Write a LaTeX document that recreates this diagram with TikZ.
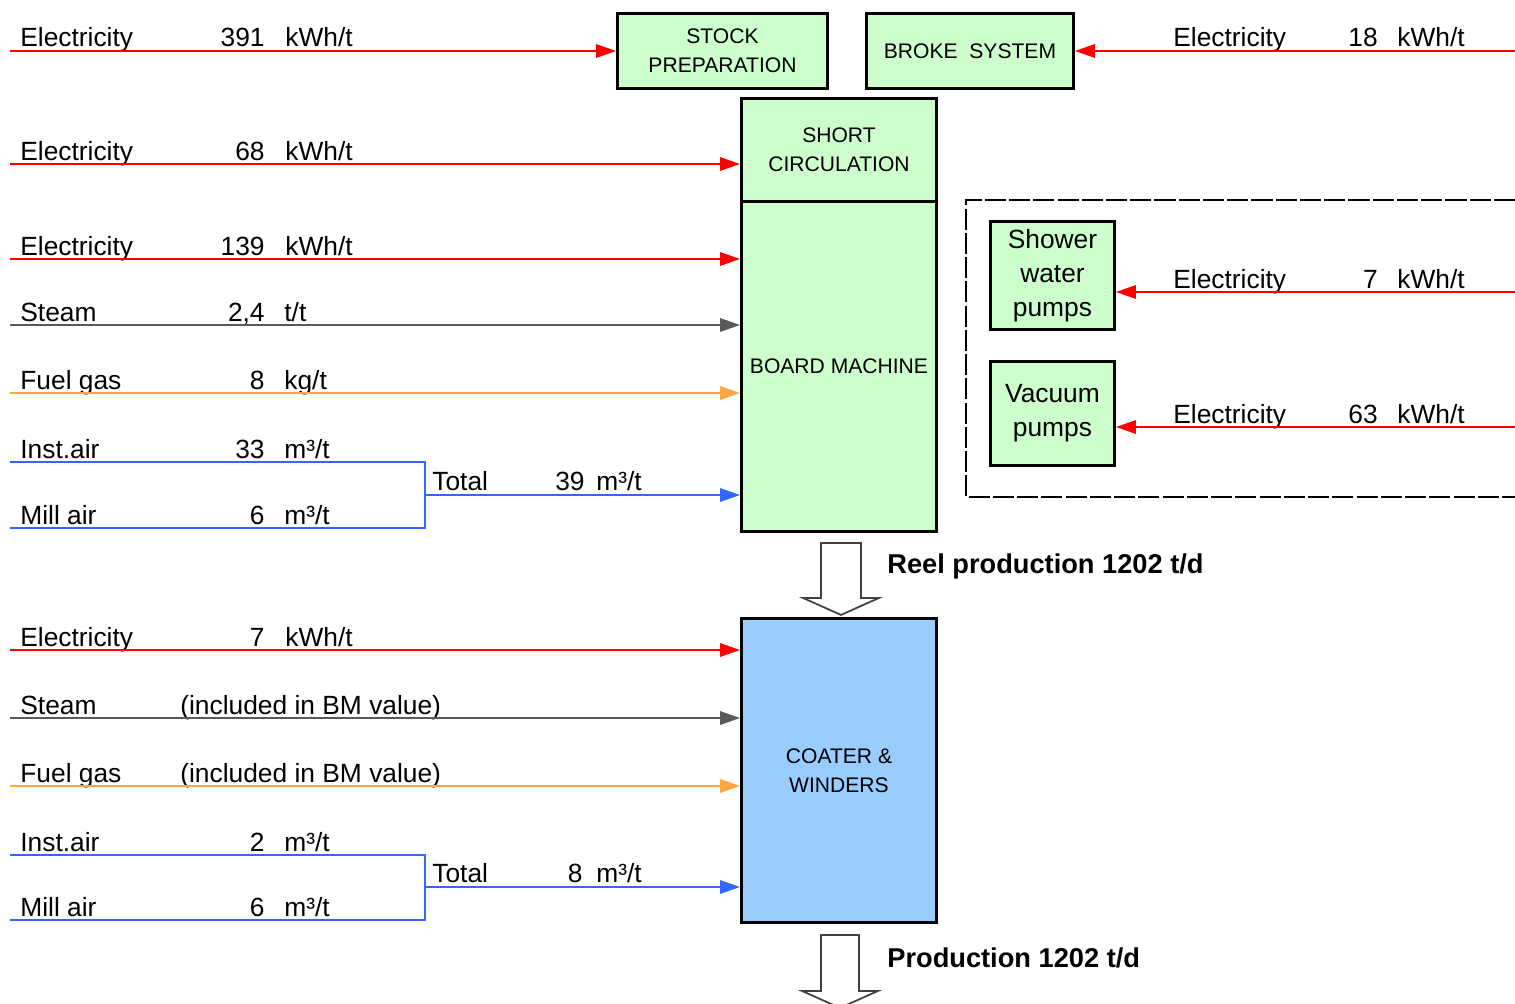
\documentclass[tikz,border=0pt]{standalone}
\usepackage{fontspec}
\setmainfont{Liberation Sans}
\usepackage{tikz}
\usetikzlibrary{positioning, arrows.meta}
\definecolor{boxgreen}{HTML}{CCFFCC}
\definecolor{boxblue}{HTML}{99CCFF}
\definecolor{elecred}{HTML}{FF0000}
\definecolor{steamgray}{HTML}{595959}
\definecolor{fuelorange}{HTML}{FFA640}
\definecolor{airblue}{HTML}{3366FF}
\newcommand{\lblfont}{\fontsize{15}{19.5}\selectfont}
\newcommand{\boxfont}{\fontsize{12}{16.5}\selectfont}
\newcommand{\prodfont}{\fontsize{15.5}{19}\selectfont\bfseries}
\tikzset{
  box/.style={draw, line width=1.7pt, fill=boxgreen, align=center, font=\boxfont, inner sep=1pt, anchor=north west},
  flow/.style={line width=1pt, -{Triangle[length=0.4cm, width=0.27cm]}},
  pipe/.style={line width=1pt},
  lbl/.style={anchor=base west, inner sep=0pt, font=\lblfont},
  val/.style={anchor=base east, inner sep=0pt, font=\lblfont},
  hollow/.style={draw=black!75, line width=1pt, fill=white, line join=miter},
}

\begin{document}
\begin{tikzpicture}[x=0.02cm, y=-0.02cm]
  \useasboundingbox (0,0) rectangle (1515,1004);

  % process boxes
  \node[box, minimum width=4.2cm, minimum height=1.5cm] (stock) at (616,12) {STOCK\\PREPARATION};
  \node[box, minimum width=4.14cm, minimum height=1.5cm] (broke) at (865,12) {BROKE\ \ SYSTEM};
  \node[box, minimum width=3.9cm, minimum height=2.06cm] (short) at (740,97) {SHORT\\CIRCULATION};
  \node[box, minimum width=3.9cm, minimum height=6.6cm] (board) at (740,200) {BOARD MACHINE};
  \node[box, fill=boxblue, minimum width=3.9cm, minimum height=6.08cm] (coater) at (740,617) {COATER \&\\WINDERS};
  \node[box, font=\lblfont, minimum width=2.48cm, minimum height=2.16cm] (shower) at (989,220) {Shower\\water\\pumps};
  \node[box, font=\lblfont, minimum width=2.48cm, minimum height=2.08cm] (vacuum) at (989,360) {Vacuum\\pumps};

  % dashed frame round the pumps
  \draw[line width=1.3pt, dash pattern=on 12pt off 1.8pt] (1515,200) -- (966,200) -- (966,497) -- (1515,497);

  % stock preparation
  \coordinate (eStock) at (10,51);
  \node[lbl] (eStockName) at (20,47) {Electricity};
  \node[val] (eStockVal) at (265,47) {391};
  \node[lbl, right=0.4cm of eStockVal.base east, anchor=base west] (eStockUnit) {kWh/t};
  \draw[flow, elecred] (eStock) -- (eStock -| stock.west);

  % broke system
  \coordinate (eBroke) at (1515,51);
  \node[lbl] (eBrokeName) at (1173,47) {Electricity};
  \node[val] (eBrokeVal) at (1378,47) {18};
  \node[lbl, right=0.38cm of eBrokeVal.base east, anchor=base west] (eBrokeUnit) {kWh/t};
  \draw[flow, elecred] (eBroke) -- (eBroke -| broke.east);

  % short circulation
  \coordinate (eShort) at (10,164);
  \node[lbl] (eShortName) at (20,160) {Electricity};
  \node[val] (eShortVal) at (265,160) {68};
  \node[lbl, right=0.4cm of eShortVal.base east, anchor=base west] (eShortUnit) {kWh/t};
  \draw[flow, elecred] (eShort) -- (eShort -| short.west);

  % board machine
  \coordinate (eBoard) at (10,259);
  \node[lbl] (eBoardName) at (20,255) {Electricity};
  \node[val] (eBoardVal) at (265,255) {139};
  \node[lbl, right=0.4cm of eBoardVal.base east, anchor=base west] (eBoardUnit) {kWh/t};
  \draw[flow, elecred] (eBoard) -- (eBoard -| board.west);

  \coordinate (sBoard) at (10,325);
  \node[lbl] (sBoardName) at (20,321) {Steam};
  \node[val] (sBoardVal) at (265,321) {2,4};
  \node[lbl, right=0.38cm of sBoardVal.base east, anchor=base west] (sBoardUnit) {t/t};
  \draw[flow, steamgray] (sBoard) -- (sBoard -| board.west);

  \coordinate (fBoard) at (10,393);
  \node[lbl] (fBoardName) at (20,389) {Fuel gas};
  \node[val] (fBoardVal) at (265,389) {8};
  \node[lbl, right=0.38cm of fBoardVal.base east, anchor=base west] (fBoardUnit) {kg/t};
  \draw[flow, fuelorange] (fBoard) -- (fBoard -| board.west);

  \coordinate (iBoard) at (10,462);
  \coordinate (mBoard) at (10,528);
  \coordinate (jBoard) at (425,495);
  \node[lbl] (iBoardName) at (20,458) {Inst.air};
  \node[val] (iBoardVal) at (265,458) {33};
  \node[lbl, right=0.38cm of iBoardVal.base east, anchor=base west] (iBoardUnit) {m³/t};
  \node[lbl] (mBoardName) at (20,524) {Mill air};
  \node[val] (mBoardVal) at (265,524) {6};
  \node[lbl, right=0.38cm of mBoardVal.base east, anchor=base west] (mBoardUnit) {m³/t};
  \draw[pipe, airblue] (iBoard) -| (jBoard) |- (mBoard);
  \node[lbl] (tBoardName) at (432,490) {Total};
  \node[val] (tBoardVal) at (585,490) {39};
  \node[lbl, right=0.22cm of tBoardVal.base east, anchor=base west] (tBoardUnit) {m³/t};
  \draw[flow, airblue] (jBoard) -- (jBoard -| board.west);

  % pumps
  \coordinate (eShower) at (1515,292);
  \node[lbl] (eShowerName) at (1173,288) {Electricity};
  \node[val] (eShowerVal) at (1378,288) {7};
  \node[lbl, right=0.38cm of eShowerVal.base east, anchor=base west] (eShowerUnit) {kWh/t};
  \draw[flow, elecred] (eShower) -- (eShower -| shower.east);

  \coordinate (eVacuum) at (1515,427);
  \node[lbl] (eVacuumName) at (1173,423) {Electricity};
  \node[val] (eVacuumVal) at (1378,423) {63};
  \node[lbl, right=0.38cm of eVacuumVal.base east, anchor=base west] (eVacuumUnit) {kWh/t};
  \draw[flow, elecred] (eVacuum) -- (eVacuum -| vacuum.east);

  % reel to coater
  \draw[hollow, shift={(board.south)}] (-18,10) -- (22,10) -- (22,65) -- (40,65) -- (2,82) -- (-36,65) -- (-18,65) -- cycle;
  \node[lbl, font=\prodfont, anchor=west] (reel) at (887,566) {Reel production 1202 t/d};

  % coater & winders
  \coordinate (eCoater) at (10,650);
  \node[lbl] (eCoaterName) at (20,646) {Electricity};
  \node[val] (eCoaterVal) at (265,646) {7};
  \node[lbl, right=0.4cm of eCoaterVal.base east, anchor=base west] (eCoaterUnit) {kWh/t};
  \draw[flow, elecred] (eCoater) -- (eCoater -| coater.west);

  \coordinate (sCoater) at (10,718);
  \node[lbl] (sCoaterName) at (20,714) {Steam};
  \node[lbl] (sCoaterVal) at (180,714) {(included in BM value)};
  \draw[flow, steamgray] (sCoater) -- (sCoater -| coater.west);

  \coordinate (fCoater) at (10,786);
  \node[lbl] (fCoaterName) at (20,782) {Fuel gas};
  \node[lbl] (fCoaterVal) at (180,782) {(included in BM value)};
  \draw[flow, fuelorange] (fCoater) -- (fCoater -| coater.west);

  \coordinate (iCoater) at (10,855);
  \coordinate (mCoater) at (10,920);
  \coordinate (jCoater) at (425,887);
  \node[lbl] (iCoaterName) at (20,851) {Inst.air};
  \node[val] (iCoaterVal) at (265,851) {2};
  \node[lbl, right=0.38cm of iCoaterVal.base east, anchor=base west] (iCoaterUnit) {m³/t};
  \node[lbl] (mCoaterName) at (20,916) {Mill air};
  \node[val] (mCoaterVal) at (265,916) {6};
  \node[lbl, right=0.38cm of mCoaterVal.base east, anchor=base west] (mCoaterUnit) {m³/t};
  \draw[pipe, airblue] (iCoater) -| (jCoater) |- (mCoater);
  \node[lbl] (tCoaterName) at (432,882) {Total};
  \node[val] (tCoaterVal) at (583,882) {8};
  \node[lbl, right=0.26cm of tCoaterVal.base east, anchor=base west] (tCoaterUnit) {m³/t};
  \draw[flow, airblue] (jCoater) -- (jCoater -| coater.west);

  % production out
  \draw[hollow, shift={(coater.south)}] (-18,11) -- (20,11) -- (20,67) -- (39,67) -- (1,84) -- (-37,67) -- (-18,67) -- cycle;
  \node[lbl, font=\prodfont, anchor=west] (prod) at (887,958) {Production 1202 t/d};
\end{tikzpicture}
\end{document}
